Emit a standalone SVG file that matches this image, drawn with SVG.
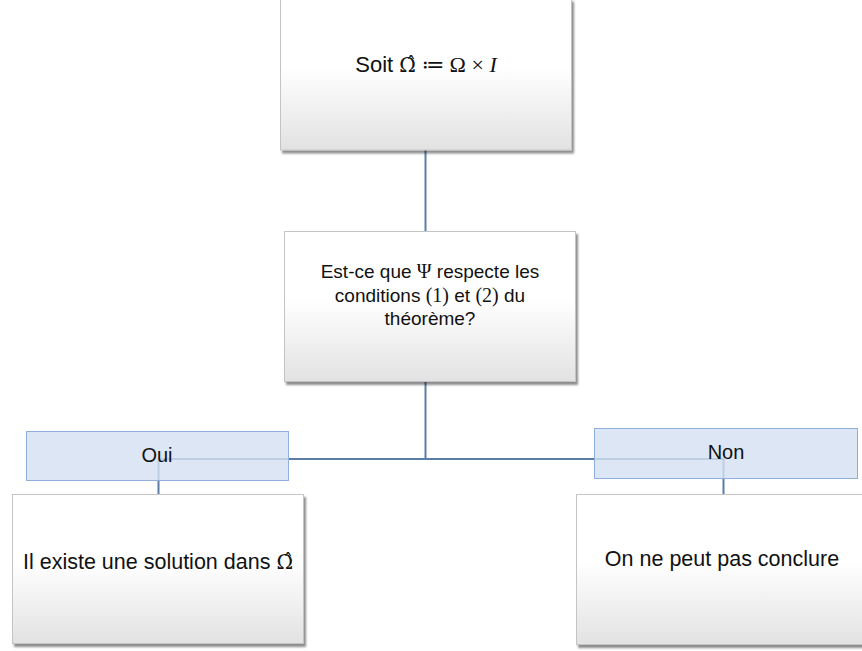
<svg xmlns="http://www.w3.org/2000/svg" width="862" height="651" viewBox="0 0 862 651">
<defs>
<linearGradient id="g" x1="0" y1="0" x2="0" y2="1">
<stop offset="0" stop-color="#ffffff"/>
<stop offset="0.45" stop-color="#ffffff"/>
<stop offset="1" stop-color="#e2e2e2"/>
</linearGradient>
<filter id="sh" x="-5%" y="-5%" width="115%" height="120%">
<feGaussianBlur in="SourceAlpha" stdDeviation="1.2"/>
<feOffset dx="1.5" dy="2.5" result="b"/>
<feComponentTransfer><feFuncA type="linear" slope="0.45"/></feComponentTransfer>
<feMerge><feMergeNode/><feMergeNode in="SourceGraphic"/></feMerge>
</filter>
<style>
.box{fill:url(#g);stroke:#c4c4c4;stroke-width:1;filter:url(#sh)}
.lab{fill:#d4e0f1;fill-opacity:0.82;stroke:#8fb0da;stroke-width:1}
.con{fill:none;stroke:#5b7ea8;stroke-width:2}
.t{font-family:"Liberation Sans",Arial,sans-serif;fill:#111;text-anchor:middle}
.m{font-family:"Liberation Serif","DejaVu Serif",serif}
.h{font-family:"DejaVu Serif",serif}
</style>
</defs>
<g id="connectors">
<path class="con" d="M425.5 150V231"/>
<path class="con" d="M425.5 382V459"/>
<path class="con" d="M158.5 495V459H723.5V494"/>
</g>
<g id="n1">
<rect class="box" x="280.5" y="-1" width="291" height="151"/>
<text class="t" x="426" y="72" font-size="22">Soit <tspan class="h" font-size="20">Ω̂</tspan><tspan class="m"> ≔ Ω × <tspan font-style="italic">I</tspan></tspan></text>
</g>
<g id="n2">
<rect class="box" x="284.5" y="231.5" width="291" height="150"/>
<text class="t" x="430" y="278" font-size="19">Est-ce que <tspan class="m" font-size="20">Ψ</tspan> respecte les</text>
<text class="t" x="430" y="302" font-size="19">conditions <tspan class="m" font-size="20">(1)</tspan> et <tspan class="m" font-size="20">(2)</tspan> du</text>
<text class="t" x="430" y="325" font-size="19">théorème?</text>
</g>
<g id="oui">
<rect class="lab" x="26.5" y="431.5" width="262" height="49"/>
<text class="t" x="157" y="462" font-size="20">Oui</text>
</g>
<g id="non">
<rect class="lab" x="594.5" y="428.5" width="263" height="50"/>
<text class="t" x="726" y="459" font-size="20">Non</text>
</g>
<g id="n3">
<rect class="box" x="12.5" y="494.5" width="291" height="149"/>
<text class="t" x="158" y="569" font-size="21.5">Il existe une solution dans <tspan class="h" font-size="20">Ω̂</tspan></text>
</g>
<g id="n4">
<rect class="box" x="576.5" y="494.5" width="300" height="150"/>
<text class="t" x="722" y="566" font-size="21.5">On ne peut pas conclure</text>
</g>
</svg>
